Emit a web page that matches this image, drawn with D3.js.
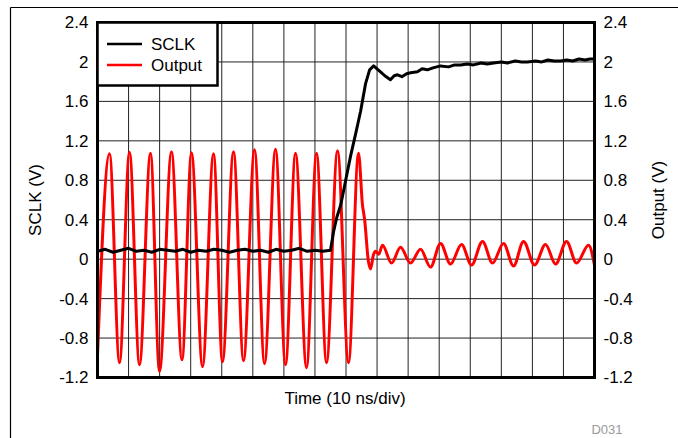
<!DOCTYPE html>
<html>
<head>
<meta charset="utf-8">
<script src="https://cdn.jsdelivr.net/npm/d3@7"></script>
<style>
  body { margin: 0; background: #fff; }
  svg { display: block; font-family: Arial, "Liberation Sans", sans-serif; }
</style>
</head>
<body>
<div id="chart"></div>
<script>
// y axis ticks (same on both sides)
const yTicks = [-1.2, -0.8, -0.4, 0, 0.4, 0.8, 1.2, 1.6, 2, 2.4];
const yTickLabels = ["-1.2", "-0.8", "-0.4", "0", "0.4", "0.8", "1.2", "1.6", "2", "2.4"];
// time divisions (10 ns/div)
const xDivs = [0, 1, 2, 3, 4, 5, 6, 7, 8, 9, 10, 11, 12, 13, 14, 15, 16];

// SCLK trace (time in divisions, volts)
const sclkTime = [0, 0.25, 0.5, 0.75, 1, 1.25, 1.5, 1.75, 2, 2.25, 2.5, 2.75, 3, 3.25, 3.5, 3.75,
  4, 4.25, 4.5, 4.75, 5, 5.25, 5.5, 5.75, 6, 6.25, 6.5, 6.75, 7, 7.25, 7.5,
  7.6, 7.7, 7.83, 7.99, 8.15, 8.31, 8.47, 8.63, 8.76, 8.89, 9.0, 9.11, 9.25, 9.43, 9.55, 9.66,
  9.8, 9.95, 10.08, 10.3, 10.45, 10.62, 10.8, 11.04, 11.3, 11.5, 11.69, 11.9, 12.1, 12.35, 12.55,
  12.75, 13.0, 13.2, 13.45, 13.65, 13.84, 14.1, 14.3, 14.5, 14.7, 14.91, 15.1, 15.3, 15.5, 15.7, 15.85, 16];
const sclkVolt = [0.08, 0.10, 0.07, 0.09, 0.11, 0.08, 0.09, 0.07, 0.10, 0.09, 0.08, 0.10, 0.07, 0.09, 0.08, 0.10,
  0.09, 0.07, 0.09, 0.10, 0.08, 0.09, 0.07, 0.10, 0.08, 0.09, 0.11, 0.08, 0.09, 0.08, 0.09,
  0.28, 0.42, 0.55, 0.80, 1.05, 1.27, 1.50, 1.78, 1.92, 1.96, 1.93, 1.90, 1.86, 1.82, 1.86, 1.87,
  1.85, 1.88, 1.89, 1.90, 1.93, 1.92, 1.94, 1.96, 1.95, 1.97, 1.97, 1.98, 1.97, 1.99, 1.98,
  1.99, 2.00, 1.99, 2.01, 2.00, 2.00, 2.01, 2.00, 2.02, 2.01, 2.01, 2.02, 2.01, 2.03, 2.02, 2.03, 2.03];

// Output trace: peaks, troughs and turning points
const outTime = [0, 0.386, 0.708, 1.030, 1.352, 1.706, 1.996, 2.382, 2.720, 3.026, 3.381, 3.735, 4.024,
  4.379, 4.701, 5.055, 5.377, 5.731, 6.053, 6.375, 6.729, 7.051, 7.373, 7.727, 8.081, 8.403,
  8.53, 8.60, 8.72, 8.79, 8.88, 8.95, 9.05, 9.176, 9.466, 9.755, 10.077, 10.399, 10.721, 11.043,
  11.365, 11.719, 12.041, 12.395, 12.717, 13.071, 13.393, 13.715, 14.070, 14.424, 14.746, 15.100,
  15.422, 15.808, 16];
const outVolt = [-0.98, 1.07, -1.05, 1.085, -1.07, 1.075, -1.14, 1.09, -1.02, 1.08, -1.09, 1.07, -1.04,
  1.09, -1.03, 1.11, -1.06, 1.115, -1.07, 1.075, -1.10, 1.075, -1.05, 1.10, -1.05, 1.075,
  0.55, 0.40, -0.02, -0.10, 0.04, 0.08, 0.05, 0.14, -0.04, 0.12, -0.04, 0.10, -0.08, 0.16,
  -0.05, 0.15, -0.06, 0.18, -0.04, 0.16, -0.07, 0.18, -0.06, 0.15, -0.05, 0.18,
  -0.04, 0.14, -0.06];

const W = 678, H = 438;
const plot = {left: 97.5, top: 22.5, right: 594.5, bottom: 377.5};

const svg = d3.select("#chart").append("svg")
    .attr("width", W)
    .attr("height", H);

// outer figure frame (top and left edges)
svg.append("line").attr("x1", 10.5).attr("x2", W).attr("y1", 7.5).attr("y2", 7.5)
    .attr("stroke", "#000").attr("stroke-width", 1.2);
svg.append("line").attr("x1", 10.5).attr("x2", 10.5).attr("y1", 7.5).attr("y2", H)
    .attr("stroke", "#000").attr("stroke-width", 1.2);

var x = d3.scaleLinear().domain([0, 16]).range([plot.left, plot.right]);
var y = d3.scaleLinear().domain([-1.2, 2.4]).range([plot.bottom, plot.top]);

// grid
svg.append("g").selectAll("line")
    .data(xDivs)
    .enter().append("line")
    .attr("x1", function (d) { return x(d); })
    .attr("x2", function (d) { return x(d); })
    .attr("y1", plot.top).attr("y2", plot.bottom)
    .attr("stroke", "#222").attr("stroke-width", 1);
svg.append("g").selectAll("line")
    .data(yTicks)
    .enter().append("line")
    .attr("x1", plot.left).attr("x2", plot.right)
    .attr("y1", function (d) { return y(d); })
    .attr("y2", function (d) { return y(d); })
    .attr("stroke", "#222").attr("stroke-width", 1);

svg.append("clipPath").attr("id", "clip")
    .append("rect")
    .attr("x", plot.left).attr("y", plot.top)
    .attr("width", plot.right - plot.left).attr("height", plot.bottom - plot.top);

var outLine = d3.line()
    .x(function (d, i) { return x(outTime[i]); })
    .y(function (d) { return y(d); })
    .curve(d3.curveMonotoneX);
var sclkLine = d3.line()
    .x(function (d, i) { return x(sclkTime[i]); })
    .y(function (d) { return y(d); });

svg.append("path")
    .datum(outVolt)
    .attr("clip-path", "url(#clip)")
    .attr("fill", "none")
    .attr("stroke", "#ff0000")
    .attr("stroke-width", 3)
    .attr("stroke-linejoin", "round")
    .attr("d", outLine);

svg.append("path")
    .datum(sclkVolt)
    .attr("clip-path", "url(#clip)")
    .attr("fill", "none")
    .attr("stroke", "#000")
    .attr("stroke-width", 3)
    .attr("stroke-linejoin", "round")
    .attr("d", sclkLine);

// axes (labels only, no tick marks)
var leftAxis = d3.axisLeft(y).tickValues(yTicks).tickSize(0).tickPadding(9)
    .tickFormat(function (d, i) { return yTickLabels[i]; });
var rightAxis = d3.axisRight(y).tickValues(yTicks).tickSize(0).tickPadding(9)
    .tickFormat(function (d, i) { return yTickLabels[i]; });

svg.append("g").attr("transform", "translate(" + plot.left + ",0)").call(leftAxis)
    .call(function (g) { g.select(".domain").remove(); });
svg.append("g").attr("transform", "translate(" + plot.right + ",0)").call(rightAxis)
    .call(function (g) { g.select(".domain").remove(); });
svg.selectAll(".tick text")
    .attr("font-size", 17)
    .attr("font-family", "Arial, 'Liberation Sans', sans-serif")
    .attr("fill", "#000");

// plot frame
svg.append("rect")
    .attr("x", plot.left).attr("y", plot.top)
    .attr("width", plot.right - plot.left).attr("height", plot.bottom - plot.top)
    .attr("fill", "none").attr("stroke", "#000").attr("stroke-width", 3);

// legend
var legend = svg.append("g");
legend.append("rect")
    .attr("x", plot.left).attr("y", plot.top)
    .attr("width", 120).attr("height", 63)
    .attr("fill", "#fff").attr("stroke", "#000").attr("stroke-width", 2.5);
var legendItems = [{name: "SCLK", color: "#000"}, {name: "Output", color: "#ff0000"}];
legendItems.forEach(function (d, i) {
    var ly = 44 + i * 21;
    legend.append("line")
        .attr("x1", 107).attr("x2", 142).attr("y1", ly).attr("y2", ly)
        .attr("stroke", d.color).attr("stroke-width", 2.6);
    legend.append("text")
        .attr("x", 151).attr("y", ly + 6)
        .attr("font-size", 17)
        .text(d.name);
});

// axis titles
svg.append("text")
    .attr("transform", "translate(41,200) rotate(-90)")
    .attr("text-anchor", "middle")
    .attr("font-size", 17)
    .text("SCLK (V)");
svg.append("text")
    .attr("transform", "translate(664,200) rotate(-90)")
    .attr("text-anchor", "middle")
    .attr("font-size", 17)
    .text("Output (V)");
svg.append("text")
    .attr("x", 345).attr("y", 404)
    .attr("text-anchor", "middle")
    .attr("font-size", 17)
    .text("Time (10 ns/div)");
svg.append("text")
    .attr("x", 607).attr("y", 434)
    .attr("text-anchor", "middle")
    .attr("font-size", 13)
    .attr("fill", "#999")
    .text("D031");
</script>
</body>
</html>
